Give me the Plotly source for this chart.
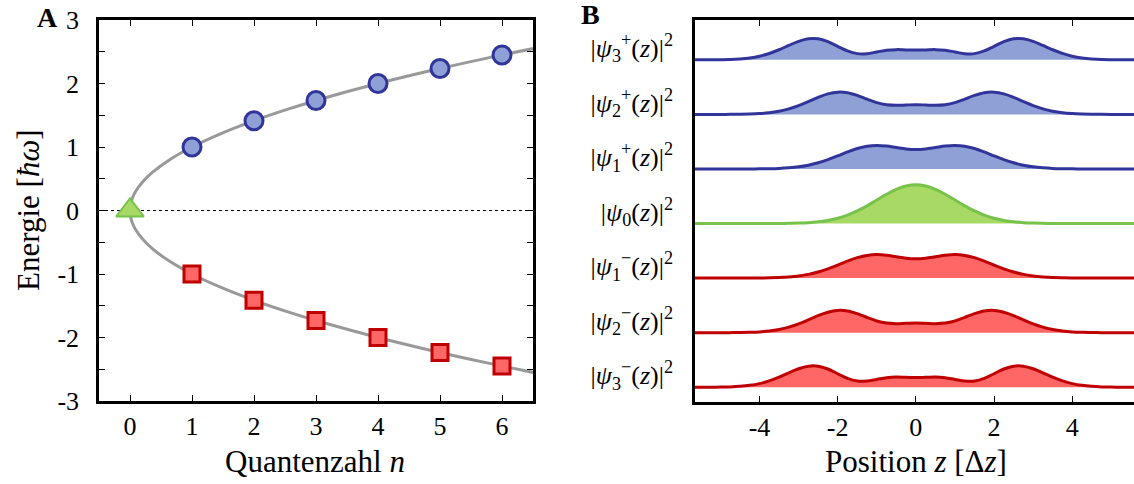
import plotly.graph_objects as go

# ---------------- Panel A data ----------------
n_levels = [1, 2, 3, 4, 5, 6]
E_plus = [1.0, 1.414, 1.732, 2.0, 2.236, 2.449]
E_minus = [-1.0, -1.414, -1.732, -2.0, -2.236, -2.449]
n_ground = [0]
E_ground = [0]
curve_E = [-2.6, -2.4, -2.2, -2.0, -1.8, -1.6, -1.4, -1.2, -1.0, -0.8, -0.6, -0.45, -0.3, -0.2, -0.1, 0.0,
           0.1, 0.2, 0.3, 0.45, 0.6, 0.8, 1.0, 1.2, 1.4, 1.6, 1.8, 2.0, 2.2, 2.4, 2.6]
curve_n = [6.76, 5.76, 4.84, 4.0, 3.24, 2.56, 1.96, 1.44, 1.0, 0.64, 0.36, 0.2025, 0.09, 0.04, 0.01, 0.0,
           0.01, 0.04, 0.09, 0.2025, 0.36, 0.64, 1.0, 1.44, 1.96, 2.56, 3.24, 4.0, 4.84, 5.76, 6.76]
A_ytick_vals = [-3, -2, -1, 0, 1, 2, 3]
A_ytick_text = ['-3', '-2', '-1', '0', '1', '2', '3']
A_xtick_vals = [0, 1, 2, 3, 4, 5, 6]

# ---------------- Panel B data ----------------
z = [-5.75, -5.5, -5.25, -5.0, -4.75, -4.5, -4.25, -4.0, -3.75, -3.5, -3.25, -3.0, -2.75, -2.5, -2.25, -2.0,
     -1.75, -1.5, -1.25, -1.0, -0.75, -0.5, -0.25, 0.0, 0.25, 0.5, 0.75, 1.0, 1.25, 1.5, 1.75, 2.0,
     2.25, 2.5, 2.75, 3.0, 3.25, 3.5, 3.75, 4.0, 4.25, 4.5, 4.75, 5.0, 5.25, 5.5, 5.75]
psi0 = [0, 0, 0, 0, 0, 0, 0, 0, .001, .002, .004, .008, .016, .031, .057, .096, .154, .231, .325, .431, .536, .627, .688,
        .710, .688, .627, .536, .431, .325, .231, .154, .096, .057, .031, .016, .008, .004, .002, .001, 0, 0, 0, 0, 0, 0, 0, 0]
psi1 = [0, 0, 0, 0, 0, 0, .001, .002, .005, .010, .021, .039, .069, .113, .171, .240, .312, .375, .416, .431, .419, .392, .366,
        .355, .366, .392, .419, .431, .416, .375, .312, .240, .171, .113, .069, .039, .021, .010, .005, .002, .001, 0, 0, 0, 0, 0, 0]
psi2 = [0, 0, 0, 0, .001, .003, .007, .015, .031, .059, .102, .162, .235, .312, .376, .408, .398, .349, .280, .215, .176, .166, .173,
        .178, .173, .166, .176, .215, .280, .349, .398, .408, .376, .312, .235, .162, .102, .059, .031, .015, .007, .003, .001, 0, 0, 0, 0]
psi3 = [0, 0, .001, .003, .007, .017, .035, .067, .117, .185, .264, .339, .386, .387, .335, .248, .163, .114, .113, .144, .175, .187, .182,
        .178, .182, .187, .175, .144, .113, .114, .163, .248, .335, .387, .386, .339, .264, .185, .117, .067, .035, .017, .007, .003, .001, 0, 0]
B_labels = [
    '|<i>ψ</i><sub>3</sub><sup>−</sup>(<i>z</i>)|<sup>2</sup>',
    '|<i>ψ</i><sub>2</sub><sup>−</sup>(<i>z</i>)|<sup>2</sup>',
    '|<i>ψ</i><sub>1</sub><sup>−</sup>(<i>z</i>)|<sup>2</sup>',
    '|<i>ψ</i><sub>0</sub>(<i>z</i>)|<sup>2</sup>',
    '|<i>ψ</i><sub>1</sub><sup>+</sup>(<i>z</i>)|<sup>2</sup>',
    '|<i>ψ</i><sub>2</sub><sup>+</sup>(<i>z</i>)|<sup>2</sup>',
    '|<i>ψ</i><sub>3</sub><sup>+</sup>(<i>z</i>)|<sup>2</sup>',
]
B_xtick_vals = [-4, -2, 0, 2, 4]
B_xtick_text = ['-4', '-2', '0', '2', '4']

# ---------------- styles ----------------
BLUE_LINE, BLUE_FILL = '#31359a', '#8fa0d7'
RED_LINE, RED_FILL = '#c00000', '#ff6666'
GREEN_LINE, GREEN_FILL = '#77c24b', '#a8d964'
GRAY = '#999999'
FONT = 'Liberation Serif'
W, H = 1134, 484
TICK_SIZE = 26
TITLE_SIZE = 31


def px(x):
    return x / W


def py(y):
    return 1 - y / H


fig = go.Figure()

# Panel A
fig.add_trace(go.Scatter(x=curve_n, y=curve_E, mode='lines', line=dict(color=GRAY, width=3, shape='spline'),
                         xaxis='x', yaxis='y', hoverinfo='skip'))
fig.add_trace(go.Scatter(x=n_levels, y=E_plus, mode='markers', xaxis='x', yaxis='y',
                         marker=dict(symbol='circle', size=18, color=BLUE_FILL, line=dict(color=BLUE_LINE, width=3))))
fig.add_trace(go.Scatter(x=n_levels, y=E_minus, mode='markers', xaxis='x', yaxis='y',
                         marker=dict(symbol='square', size=16, color=RED_FILL, line=dict(color=RED_LINE, width=3))))
fig.add_trace(go.Scatter(x=n_ground, y=E_ground, mode='markers', xaxis='x', yaxis='y',
                         marker=dict(symbol='triangle-up', size=24, color=GREEN_FILL, line=dict(color=GREEN_LINE, width=2))))

# Panel B
shapes_list = [psi3, psi2, psi1, psi0, psi1, psi2, psi3]
line_cols = [RED_LINE, RED_LINE, RED_LINE, GREEN_LINE, BLUE_LINE, BLUE_LINE, BLUE_LINE]
fill_cols = [RED_FILL, RED_FILL, RED_FILL, GREEN_FILL, BLUE_FILL, BLUE_FILL, BLUE_FILL]
offsets = [k + 0.27 for k in range(7)]
for prof, off, lc, fc in zip(shapes_list, offsets, line_cols, fill_cols):
    fig.add_trace(go.Scatter(x=z, y=[off] * len(z), mode='lines', line=dict(width=0, color=fc),
                             xaxis='x2', yaxis='y2', hoverinfo='skip'))
    fig.add_trace(go.Scatter(x=z, y=[off + v for v in prof], mode='lines', fill='tonexty', fillcolor=fc,
                             line=dict(color=lc, width=3, shape='spline'), xaxis='x2', yaxis='y2'))

axis_common = dict(showline=True, linecolor='black', linewidth=2.5, ticks='inside', tickcolor='black',
                   tickwidth=1.2, ticklen=6, showgrid=False, zeroline=False,
                   tickfont=dict(family=FONT, size=TICK_SIZE, color='black'))

fig.update_layout(
    width=W, height=H,
    margin=dict(l=0, r=0, t=0, b=0, autoexpand=False),
    paper_bgcolor='white', plot_bgcolor='white',
    showlegend=False,
    font=dict(family=FONT, color='black'),
    xaxis=dict(domain=[px(99), px(533)], range=[-0.5, 6.5], tickvals=A_xtick_vals, mirror='ticks',
               anchor='y', ticklabelstandoff=0, **axis_common),
    yaxis=dict(domain=[py(401), py(20)], range=[-3, 3], tickvals=A_ytick_vals, ticktext=A_ytick_text,
               mirror='ticks', anchor='x', ticklabelstandoff=12,
               minor=dict(ticks='inside', ticklen=6, dtick=0.5, tick0=0.5, tickcolor='black', tickwidth=1.2),
               **axis_common),
    xaxis2=dict(domain=[px(695), 1.0], range=[-5.65, 5.58], tickvals=B_xtick_vals, ticktext=B_xtick_text,
                mirror='ticks', anchor='y2', ticklabelstandoff=0, **axis_common),
    yaxis2=dict(domain=[py(402), py(20)], range=[0, 7], showline=True, linecolor='black', linewidth=2.5,
                ticks='', showgrid=False, zeroline=False, tickvals=[o + 0.22 for o in offsets], ticktext=B_labels,
                tickfont=dict(family=FONT, size=TICK_SIZE, color='black'), anchor='x2', ticklabelstandoff=14),
    shapes=[dict(type='line', xref='x', yref='y', x0=-0.5, x1=6.5, y0=0, y1=0, layer='below',
                 line=dict(color='black', width=1, dash='dot'))],
    annotations=[
        dict(text='<b>A</b>', x=px(47), y=py(17), xref='paper', yref='paper', showarrow=False,
             font=dict(family=FONT, size=28, color='black'), xanchor='center', yanchor='middle'),
        dict(text='<b>B</b>', x=px(590), y=py(15), xref='paper', yref='paper', showarrow=False,
             font=dict(family=FONT, size=28, color='black'), xanchor='center', yanchor='middle'),
        dict(text='Energie [<i>ħω</i>]', x=px(28), y=py(210), xref='paper', yref='paper', showarrow=False,
             textangle=-90, font=dict(family=FONT, size=TITLE_SIZE, color='black'), xanchor='center', yanchor='middle'),
        dict(text='Quantenzahl <i>n</i>', x=px(315), y=py(461), xref='paper', yref='paper', showarrow=False,
             font=dict(family=FONT, size=TITLE_SIZE, color='black'), xanchor='center', yanchor='middle'),
        dict(text='Position <i>z</i> [Δ<i>z</i>]', x=px(916), y=py(461), xref='paper', yref='paper', showarrow=False,
             font=dict(family=FONT, size=TITLE_SIZE, color='black'), xanchor='center', yanchor='middle'),
    ],
)

fig.write_html('out.html', config={'displayModeBar': False},
               post_script="document.body.style.margin='0';document.body.style.overflow='hidden';")
